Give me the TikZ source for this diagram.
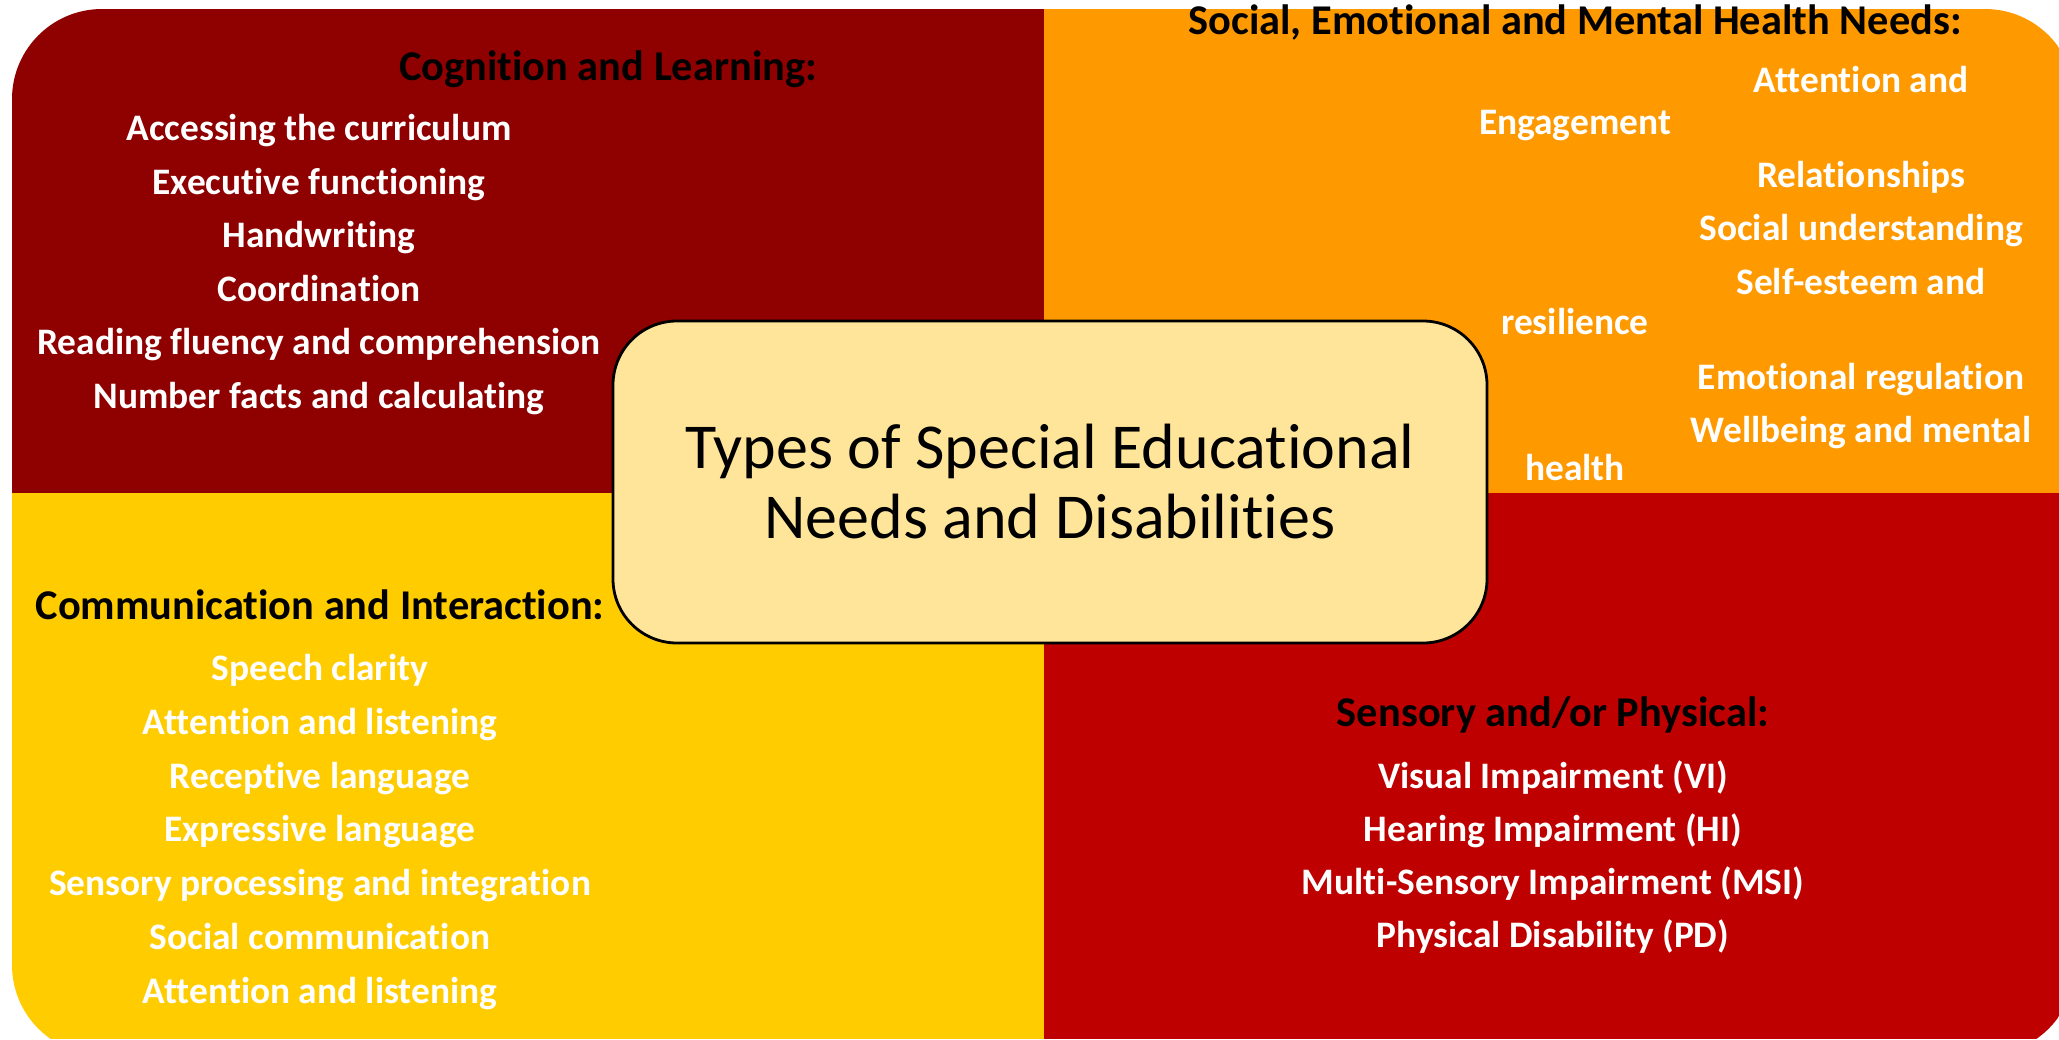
\documentclass[tikz,border=0pt]{standalone}
\usepackage{fontspec}
\setmainfont{Carlito}[Ligatures=NoCommon]
\definecolor{cogred}{RGB}{143,0,0}
\definecolor{semhorange}{RGB}{255,153,0}
\definecolor{comyellow}{RGB}{255,204,0}
\definecolor{sensred}{RGB}{190,0,0}
\definecolor{boxyellow}{RGB}{255,229,153}

\begin{document}
\begin{tikzpicture}
  [x=0.5pt,y=-0.5pt,
   every node/.style={inner sep=0pt,text height=0.64em,text depth=0pt},
   head/.style={font=\fontsize{21.2}{25}\selectfont\bfseries,text=black,yshift=-3pt},
   item/.style={font=\fontsize{18.7}{22}\selectfont\bfseries,text=white,yshift=-3pt},
   titlebox/.style={draw=black,line width=1.4pt,fill=boxyellow,rounded corners=32pt,
     minimum width=437pt,minimum height=161pt,align=center,text height=,text depth=,
     font=\fontsize{32}{35}\selectfont}]
  \useasboundingbox (0,0) rectangle (2059,1039);

  \begin{scope}
    \clip (0,0) rectangle (2059,1039);
    \clip[rounded corners=45pt] (12,9) rectangle (2075,1055);
    \fill[cogred] (0,0) rectangle (1044,493);
    \fill[semhorange] (1044,0) rectangle (2059,493);
    \fill[comyellow] (0,493) rectangle (1044,1039);
    \fill[sensred] (1044,493) rectangle (2059,1039);
  \end{scope}

  \node[head] (coghead) at (608,68) {Cognition and Learning:};
  \foreach \txt [count=\k] in {Accessing the curriculum,Executive functioning,Handwriting,
      Coordination,Reading fluency and comprehension,Number facts and calculating}
    \node[item] (cog\k) at (319,{128+53.6*(\k-1)}) {\txt};

  \node[head] (semhhead) at (1575,22) {Social, Emotional and Mental Health Needs:};
  \foreach \txt/\x/\y [count=\k] in {Attention and/1861/80,Engagement/1575/122,
      Relationships/1861/175,Social understanding/1861/228,Self-esteem and/1861/282,
      resilience/1575/322,Emotional regulation/1861/377,Wellbeing and mental/1861/430,
      health/1575/468}
    \node[item] (semh\k) at (\x,\y) {\txt};

  \node[head] (comhead) at (320,607) {Communication and Interaction:};
  \foreach \txt [count=\k] in {Speech clarity,Attention and listening,Receptive language,
      Expressive language,Sensory processing and integration,Social communication,
      Attention and listening}
    \node[item] (com\k) at (320,{668+53.8*(\k-1)}) {\txt};

  \node[head] (senshead) at (1553,714) {Sensory and/or Physical:};
  \foreach \txt [count=\k] in {Visual Impairment (VI),Hearing Impairment (HI),
      Multi-Sensory Impairment (MSI),Physical Disability (PD)}
    \node[item] (sens\k) at (1553,{776+53*(\k-1)}) {\txt};

  \node[titlebox] (title) at (1050,482) {Types of Special Educational\\Needs and Disabilities};
\end{tikzpicture}
\end{document}
